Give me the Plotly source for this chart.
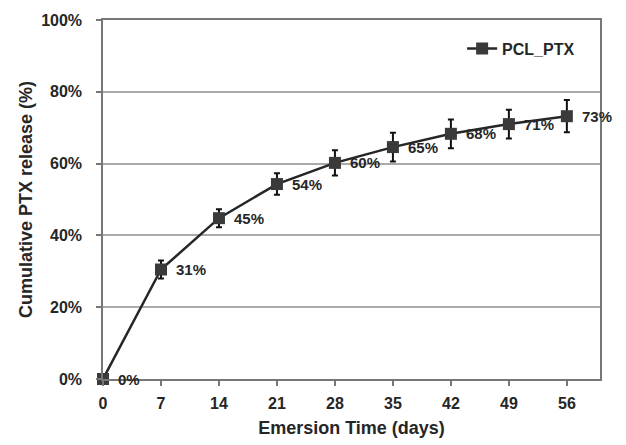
import plotly.graph_objects as go

days = [0, 7, 14, 21, 28, 35, 42, 49, 56]
release = [0.0, 30.5, 44.8, 54.3, 60.2, 64.6, 68.3, 71.0, 73.2]
err = [0.0, 2.5, 2.5, 3.0, 3.5, 4.0, 4.0, 4.0, 4.5]
labels = ["0%", "31%", "45%", "54%", "60%", "65%", "68%", "71%", "73%"]
series_name = "PCL_PTX"

font_family = "Liberation Sans, Arial, sans-serif"
dark = "#262626"

fig = go.Figure()
fig.add_trace(go.Scatter(
    x=days, y=release, name="<b>%s</b>" % series_name, mode="lines+markers",
    line=dict(color=dark, width=2.5),
    marker=dict(symbol="square", size=12, color="#3a3a3a"),
    error_y=dict(type="data", array=err, visible=True, color="#111", thickness=2, width=3),
    cliponaxis=False,
))

for d, v, t in zip(days, release, labels):
    fig.add_annotation(x=d, y=v, text="<b>%s</b>" % t, showarrow=False,
                       xanchor="left", yanchor="middle", xshift=13,
                       font=dict(family=font_family, size=15, color=dark))

fig.update_layout(
    width=626, height=445,
    margin=dict(l=103, r=26, t=20, b=66),
    paper_bgcolor="white", plot_bgcolor="white",
    font=dict(family=font_family, color=dark),
    showlegend=True,
    legend=dict(x=0.96, y=0.92, xanchor="right", yanchor="middle",
                bgcolor="rgba(0,0,0,0)",
                font=dict(family=font_family, size=16, color=dark)),
)
fig.update_xaxes(
    range=[0, 60], tickvals=days, ticktext=["<b>%d</b>" % d for d in days],
    ticks="outside", ticklen=5, tickcolor="#777", tickwidth=1.5,
    showgrid=False, zeroline=False, automargin=False,
    showline=True, linecolor="#777", linewidth=1.5, mirror=True,
    tickfont=dict(family=font_family, size=16, color=dark),
    ticklabelstandoff=4,
    title=dict(text="<b>Emersion Time (days)</b>", standoff=10,
               font=dict(family=font_family, size=18, color=dark)),
)
yt = [0, 20, 40, 60, 80, 100]
fig.update_yaxes(
    range=[0, 100], tickvals=yt, ticktext=["<b>%d%%</b>" % v for v in yt],
    ticks="outside", ticklen=5, tickcolor="#777", tickwidth=1.5,
    showgrid=True, gridcolor="#aaaaaa", gridwidth=1.5, zeroline=False, automargin=False,
    showline=True, linecolor="#777", linewidth=1.5, mirror=True,
    tickfont=dict(family=font_family, size=16, color=dark),
    ticklabelstandoff=11,
    title=dict(text="<b>Cumulative PTX release (%)</b>", standoff=4,
               font=dict(family=font_family, size=18, color=dark)),
)

fig.write_html("out.html", config={"displayModeBar": False},
               post_script="document.body.style.margin='0';")
